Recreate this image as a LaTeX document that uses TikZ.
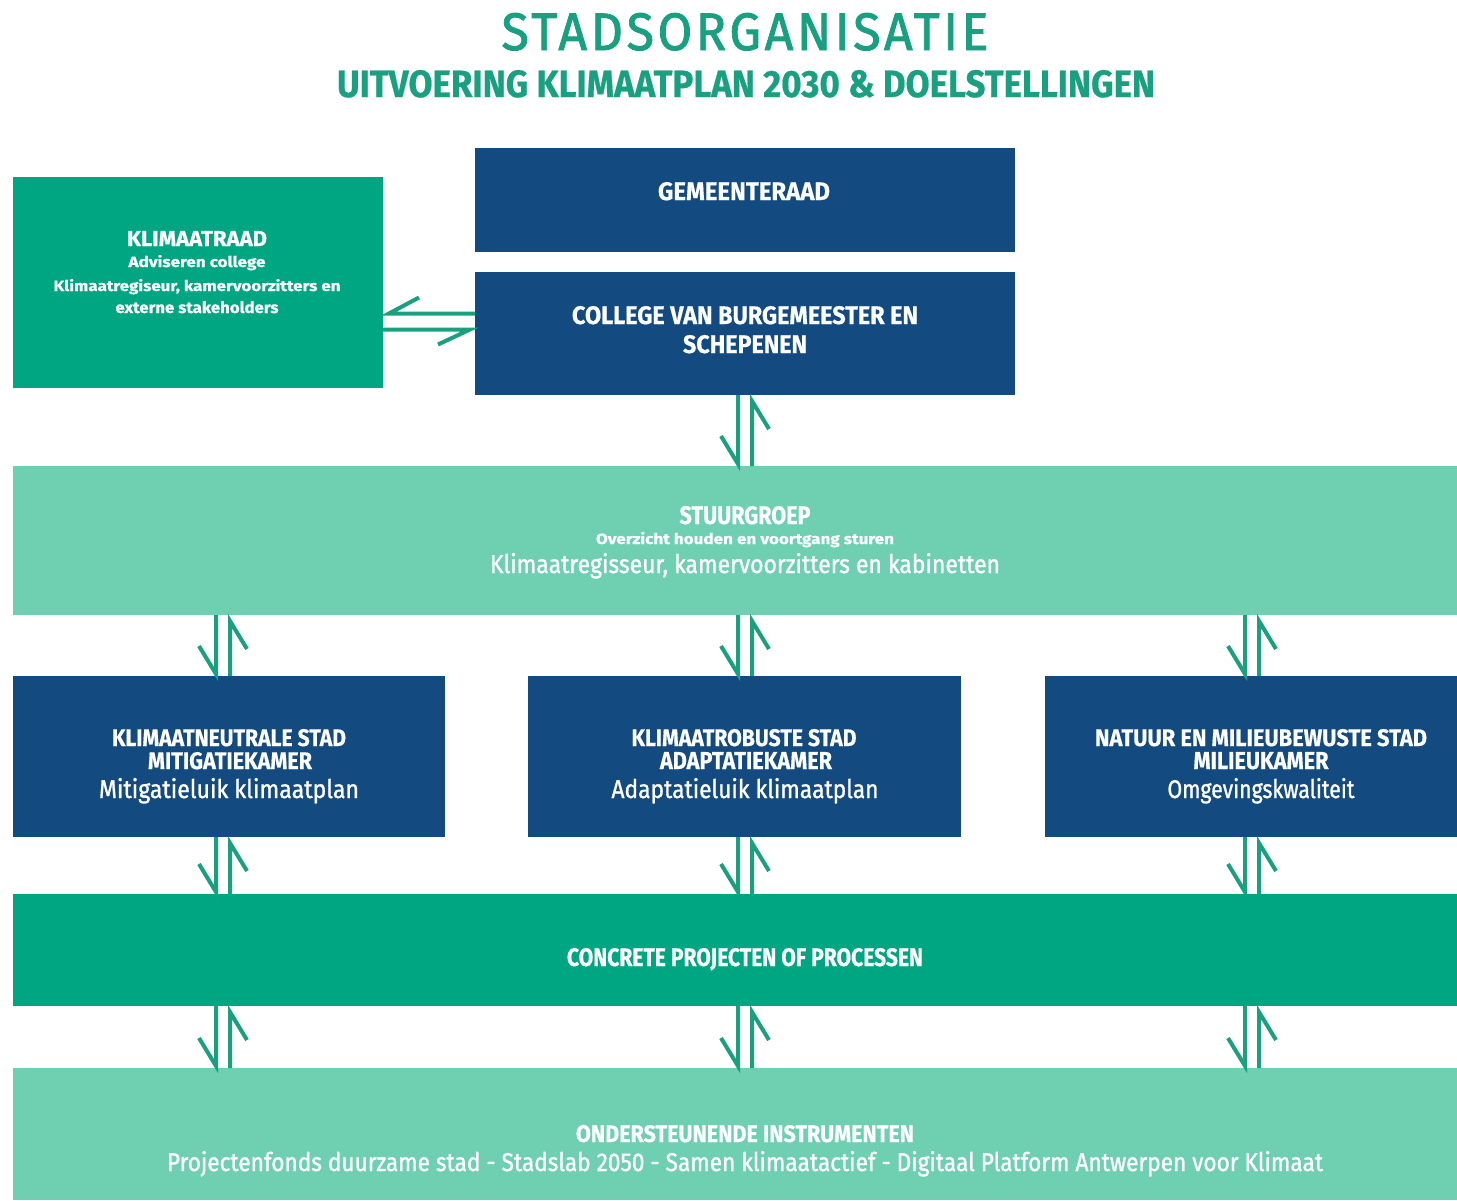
\documentclass[tikz,border=0pt]{standalone}
\usepackage{fontspec}
\usepackage{graphicx}
\setmainfont{Fira Sans}[BoldFeatures={FakeBold=0.6}]
\newfontfamily\titlef[LetterSpace=7,FakeBold=1.6]{Fira Sans}
\newfontfamily\medf[FakeBold=1.2]{Fira Sans}
\usetikzlibrary{calc}
\definecolor{tgreen}{RGB}{24,160,128}
\definecolor{dblue}{RGB}{19,75,128}
\definecolor{cteal}{RGB}{0,166,130}
\definecolor{lgreen}{RGB}{110,207,177}
\definecolor{agreen}{RGB}{26,160,126}
% one line of text: style, name, x, baseline y, width, height, text
\newcommand\tln[7]{\node[tline,#1] (#2) at (#3,#4) {\resizebox{#5pt}{#6pt}{#7}};}
% pair of half arrows between two stacked boxes
\newcommand\vpair[3]{%
  \draw[arr] ($(#1 |- #2.south)+(-7,0)$) -- ($(#1 |- #3.north)+(-7,-2)$) -- ++(-17,-28);
  \draw[arr] ($(#1 |- #3.north)+(7,0)$) -- ($(#1 |- #2.south)+(7,6)$) -- ++(17,28);}
\tikzset{
  boxbase/.style={draw=none, anchor=north west, inner sep=0pt, outer sep=0pt},
  bluebox/.style={boxbase, fill=dblue},
  tealbox/.style={boxbase, fill=cteal},
  lightbox/.style={boxbase, fill=lgreen},
  tline/.style={anchor=base, inner sep=0pt, outer sep=0pt, text=white, font=\bfseries},
  reg/.style={font=\medf},
  arr/.style={draw=agreen, line width=4pt, line cap=butt, line join=miter}
}
\begin{document}
\begin{tikzpicture}[x=1pt,y=-1pt]
\useasboundingbox[fill=white] (0,0) rectangle (1457,1200);

% boxes
\node[bluebox, minimum width=540pt, minimum height=104pt] (gem) at (475,148) {};
\node[bluebox, minimum width=540pt, minimum height=123pt] (col) at (475,272) {};
\node[tealbox, minimum width=370pt, minimum height=211pt] (kr) at (13,177) {};
\node[lightbox, minimum width=1444pt, minimum height=149pt] (stuur) at (13,466) {};
\node[bluebox, minimum width=432pt, minimum height=161pt] (m1) at (13,676) {};
\node[bluebox, minimum width=433pt, minimum height=161pt] (m2) at (528,676) {};
\node[bluebox, minimum width=412pt, minimum height=161pt] (m3) at (1045,676) {};
\node[tealbox, minimum width=1444pt, minimum height=112pt] (conc) at (13,894) {};
\node[lightbox, minimum width=1444pt, minimum height=132pt] (ond) at (13,1068) {};

% column positions of the arrow pairs
\coordinate (cx1) at (223,0);
\coordinate (cx2) at (745,0);
\coordinate (cx3) at (1252,0);

% titles
\tln{font=\titlef, text=tgreen}{title}{745}{50}{487}{37}{STADSORGANISATIE}
\tln{text=tgreen}{sub}{746}{97}{818}{27}{UITVOERING KLIMAATPLAN 2030 \& DOELSTELLINGEN}

% texts
\tln{}{gemT}{744}{200}{172}{18}{GEMEENTERAAD}
\tln{}{colT1}{745}{324}{346}{18}{COLLEGE VAN BURGEMEESTER EN}
\tln{}{colT2}{745}{353}{124}{18}{SCHEPENEN}

\tln{}{krT1}{197}{246}{140}{15}{KLIMAATRAAD}
\tln{}{krT2}{197}{267}{137}{12}{Adviseren college}
\tln{}{krT3}{197}{291}{287}{12}{Klimaatregiseur, kamervoorzitters en}
\tln{}{krT4}{197}{313}{163}{12}{externe stakeholders}

\tln{}{stT1}{745}{524}{131}{18}{STUURGROEP}
\tln{}{stT2}{745}{544}{298}{12}{Overzicht houden en voortgang sturen}
\tln{reg}{stT3}{745}{573}{510}{20}{Klimaatregisseur, kamervoorzitters en kabinetten}

\tln{}{m1T1}{229}{746}{234}{17}{KLIMAATNEUTRALE STAD}
\tln{}{m1T2}{230}{769}{164}{17}{MITIGATIEKAMER}
\tln{reg}{m1T3}{229}{798}{260}{20}{Mitigatieluik klimaatplan}

\tln{}{m2T1}{744}{746}{225}{17}{KLIMAATROBUSTE STAD}
\tln{}{m2T2}{746}{769}{172}{17}{ADAPTATIEKAMER}
\tln{reg}{m2T3}{745}{798}{267}{20}{Adaptatieluik klimaatplan}

\tln{}{m3T1}{1261}{746}{332}{17}{NATUUR EN MILIEUBEWUSTE STAD}
\tln{}{m3T2}{1261}{769}{135}{17}{MILIEUKAMER}
\tln{reg}{m3T3}{1261}{798}{187}{20}{Omgevingskwaliteit}

\tln{}{concT}{745}{966}{356}{18}{CONCRETE PROJECTEN OF PROCESSEN}

\tln{}{ondT1}{745}{1142}{338}{17}{ONDERSTEUNENDE INSTRUMENTEN}
\tln{reg}{ondT2}{745}{1171}{1156}{20}{Projectenfonds duurzame stad - Stadslab 2050 - Samen klimaatactief - Digitaal Platform Antwerpen voor Klimaat}

% horizontal half arrows between Klimaatraad and College
\draw[arr] ($(col.west)+(0,-20)$) -- ($(kr.east |- col.west)+(6,-20)$) -- ++(30,-16);
\draw[arr] ($(kr.east |- col.west)+(0,-4)$) -- ($(col.west)+(-5,-4)$) -- ++(-32,15);

% vertical half arrow pairs
\vpair{cx2}{col}{stuur}
\vpair{cx1}{stuur}{m1}
\vpair{cx2}{stuur}{m2}
\vpair{cx3}{stuur}{m3}
\vpair{cx1}{m1}{conc}
\vpair{cx2}{m2}{conc}
\vpair{cx3}{m3}{conc}
\vpair{cx1}{conc}{ond}
\vpair{cx2}{conc}{ond}
\vpair{cx3}{conc}{ond}
\end{tikzpicture}
\end{document}
